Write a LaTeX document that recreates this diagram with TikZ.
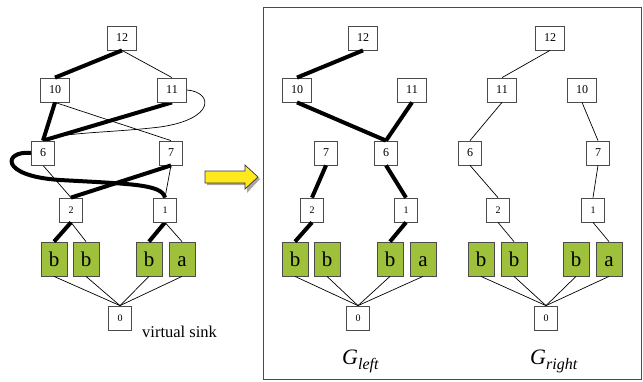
\documentclass[tikz,border=0pt]{standalone}
\usepackage{fontspec}
\setmainfont{Liberation Serif}
\definecolor{leafgreen}{RGB}{158,192,58}
\definecolor{arrowyellow}{RGB}{255,232,30}
\definecolor{boxline}{RGB}{75,75,75}
\begin{document}
\begin{tikzpicture}[x=1pt,y=-1pt,
  numbox/.style={draw=boxline, line width=0.8pt, fill=white, inner sep=0pt,
    minimum width=23pt, minimum height=24pt, font=\fontsize{12}{12}\selectfont},
  smallnum/.style={numbox, font=\fontsize{10}{10}\selectfont},
  widebox/.style={numbox, minimum width=29pt},
  leaf/.style={draw=boxline, line width=0.8pt, fill=leafgreen, inner sep=0pt,
    minimum width=26pt, minimum height=34pt, text height=14pt, text depth=0pt,
    font=\fontsize{21}{21}\selectfont},
  heavy/.style={line width=4pt},
  light/.style={line width=0.7pt},
  caption/.style={anchor=base west, inner sep=0pt, font=\fontsize{22}{22}\selectfont\itshape}
]
\useasboundingbox (0,0) rectangle (643,381);

% ---------- combined graph ----------
\node[widebox] (a12) at (122,38) {12};
\node[widebox] (a10) at (55,90) {10};
\node[widebox] (a11) at (172,90) {11};
\node[numbox] (a6) at (43,153) {6};
\node[numbox] (a7) at (171,153) {7};
\node[smallnum] (a2) at (71,210) {2};
\node[smallnum] (a1) at (165,210) {1};
\node[leaf] (ab1) at (54,259) {b};
\node[leaf] (ab2) at (86,259) {b};
\node[leaf] (ab3) at (149,259) {b};
\node[leaf] (aa) at (182,259) {a};
\node[smallnum] (a0) at (120,318) {0};
\node[anchor=base west, inner sep=0pt, font=\fontsize{16.5}{16.5}\selectfont] (sinklabel) at (142,337) {virtual sink};

\draw[heavy] (a12.south) -- (a10.north);
\draw[light] (a12.south) -- (a11.north);
\draw[heavy] (a10.south) -- (a6.north);
\draw[light] (a10.south) -- (a7.north);
\draw[heavy] (a11.south) -- (a6.north);
\draw[light] (a11.east) .. controls (213,92) and (216,119) .. (160,127)
                       .. controls (110,133) and (62,132) .. (a6.north);
\draw[light] (a6.south) -- (a2.north);
\draw[heavy] (a6.west) .. controls (4,150) and (-2,176) .. (60,180)
                       .. controls (130,184) and (162,184) .. (a1.north);
\draw[heavy] (a7.south) -- (a2.north);
\draw[light] (a7.south) -- (a1.north);
\draw[heavy] (a2.south) -- (ab1.north);
\draw[light] (a2.south) -- (ab2.north);
\draw[heavy] (a1.south) -- (ab3.north);
\draw[light] (a1.south) -- (aa.north);
\foreach \n in {ab1,ab2,ab3,aa} \draw[light] (\n.south) -- (a0.north);
% boxes drawn again on top of the curved edges that run into them
\node[numbox] at (a6) {6};
\node[smallnum] at (a1) {1};
\node[widebox] at (a11) {11};

% ---------- arrow ----------
\fill[black!35] (207,173) -- (247,173) -- (247,167) -- (260,179) -- (247,193) -- (247,185) -- (207,185) -- cycle;
\draw[fill=arrowyellow, line width=0.7pt, draw=black!80]
  (205,171) -- (245,171) -- (245,165) -- (258,177) -- (245,189) -- (245,183) -- (205,183) -- cycle;

% ---------- frame ----------
\draw[boxline, line width=0.9pt] (263,7) rectangle (641,379);

% ---------- left split ----------
\node[widebox] (b12) at (363,38) {12};
\node[widebox] (b10) at (297,90) {10};
\node[widebox] (b11) at (412,90) {11};
\node[numbox] (b7) at (326,153) {7};
\node[numbox] (b6) at (386,153) {6};
\node[smallnum] (b2) at (312,210) {2};
\node[smallnum] (b1) at (406,210) {1};
\node[leaf] (bb1) at (295,259) {b};
\node[leaf] (bb2) at (327,259) {b};
\node[leaf] (bb3) at (390,259) {b};
\node[leaf] (ba) at (423,259) {a};
\node[smallnum] (b0) at (358,318) {0};
\draw[heavy] (b12.south) -- (b10.north);
\draw[heavy] (b10.south) -- (b6.north);
\draw[heavy] (b11.south) -- (b6.north);
\draw[heavy] (b7.south) -- (b2.north);
\draw[heavy] (b6.south) -- (b1.north);
\draw[heavy] (b2.south) -- (bb1.north);
\draw[heavy] (b1.south) -- (bb3.north);
\foreach \n in {bb1,bb2,bb3,ba} \draw[light] (\n.south) -- (b0.north);
\node[caption] (gleft) at (342,364) {G\raisebox{-5pt}{\fontsize{16}{16}\selectfont left}};

% ---------- right split ----------
\node[widebox] (c12) at (550,38) {12};
\node[widebox] (c11) at (502,90) {11};
\node[widebox] (c10) at (582,90) {10};
\node[numbox] (c6) at (470,153) {6};
\node[numbox] (c7) at (598,153) {7};
\node[smallnum] (c2) at (498,210) {2};
\node[smallnum] (c1) at (593,210) {1};
\node[leaf] (cb1) at (481,259) {b};
\node[leaf] (cb2) at (514,259) {b};
\node[leaf] (cb3) at (576,259) {b};
\node[leaf] (ca) at (609,259) {a};
\node[smallnum] (c0) at (546,318) {0};
\draw[light] (c12.south) -- (c11.north);
\draw[light] (c11.south) -- (c6.north);
\draw[light] (c6.south) -- (c2.north);
\draw[light] (c10.south) -- (c7.north);
\draw[light] (c7.south) -- (c1.north);
\draw[light] (c2.south) -- (cb2.north);
\draw[light] (c1.south) -- (ca.north);
\foreach \n in {cb1,cb2,cb3,ca} \draw[light] (\n.south) -- (c0.north);
\node[caption] (gright) at (530,364) {G\raisebox{-5pt}{\fontsize{16}{16}\selectfont right}};
\end{tikzpicture}
\end{document}
